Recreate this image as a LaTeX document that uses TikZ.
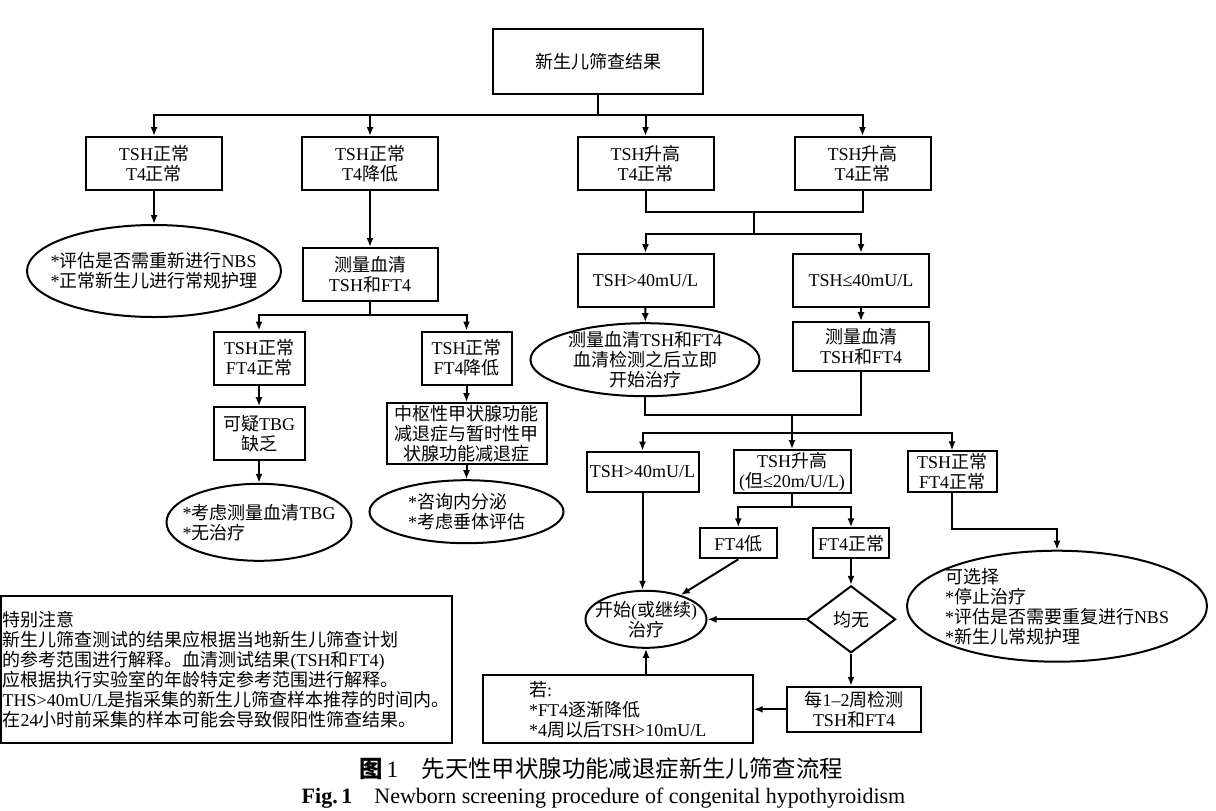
\documentclass[tikz,border=0pt]{standalone}
\usepackage{fontspec}
\setmainfont{Liberation Serif}
\newfontfamily\cjkfont{Noto Sans CJK SC}
\usetikzlibrary{shapes.geometric,arrows.meta}

\newXeTeXintercharclass\hanclass
\count255="4E00
\loop\ifnum\count255<"A000 \XeTeXcharclass\count255=\hanclass \advance\count255 by 1 \repeat
\count255="3000
\loop\ifnum\count255<"3040 \XeTeXcharclass\count255=\hanclass \advance\count255 by 1 \repeat
\count255="FF00
\loop\ifnum\count255<"FFF0 \XeTeXcharclass\count255=\hanclass \advance\count255 by 1 \repeat
\XeTeXinterchartoks 0 \hanclass={\cjkfont}
\XeTeXinterchartoks 4095 \hanclass={\cjkfont}
\XeTeXinterchartoks \hanclass 0={\rmfamily}
\XeTeXinterchartoks \hanclass 4095={\rmfamily}
\XeTeXinterchartokenstate=1

\begin{document}
\begin{tikzpicture}[x=0.5pt,y=-0.5pt,line width=1pt,>={Latex[length=4.5pt,width=3.5pt]},
  every node/.style={font=\fontsize{9}{10}\selectfont},
  box/.style={draw,align=center,inner sep=1pt},
  oval/.style={draw,ellipse,align=left,inner sep=-20pt},
  row/.style={minimum width=68pt,minimum height=26.5pt}]
\useasboundingbox (0,0) rectangle (1216,810);

\node[box,minimum width=105pt,minimum height=32.5pt] (res) at (598,61.5) {新生儿筛查结果};
\node[box,row] (tnorm) at (154,163.5) {TSH正常\\T4正常};
\node[box,row] (tlow) at (370,163.5) {TSH正常\\T4降低};
\node[box,row] (thigh) at (645.5,163.5) {TSH升高\\T4正常};
\node[box,row] (thighb) at (862.5,163.5) {TSH升高\\T4正常};

\node[oval,minimum width=127pt,minimum height=46pt] (renbs) at (154,271) {*评估是否需重新进行NBS\\*正常新生儿进行常规护理};
\node[box,minimum width=67.5pt,minimum height=26.5pt] (serum) at (370,274.5) {测量血清\\TSH和FT4};
\node[box,minimum width=45.5pt,minimum height=26.5pt] (ftnorm) at (259,358) {TSH正常\\FT4正常};
\node[box,minimum width=45pt,minimum height=26.5pt] (ftlow) at (466.5,358) {TSH正常\\FT4降低};
\node[box,minimum width=45.5pt,minimum height=26.5pt] (tbg) at (259,433.7) {可疑TBG\\缺乏};
\node[oval,minimum width=92.5pt,minimum height=38.5pt] (tbgtest) at (259,522.3) {*考虑测量血清TBG\\*无治疗};
\node[box,minimum width=80pt,minimum height=30.5pt] (central) at (466.5,433.5) {中枢性甲状腺功能\\减退症与暂时性甲\\状腺功能减退症};
\node[oval,minimum width=97pt,minimum height=31.5pt] (endo) at (466.5,511.7) {*咨询内分泌\\*考虑垂体评估};

\node[box,row] (over) at (645.5,280.5) {TSH>40mU/L};
\node[box,row] (under) at (861,280.5) {TSH≤40mU/L};
\node[oval,align=center,minimum width=114.5pt,minimum height=36.5pt] (treatnow) at (645,359.7) {测量血清TSH和FT4\\血清检测之后立即\\开始治疗};
\node[box,minimum width=68pt,minimum height=24.5pt] (serumb) at (861,346.7) {测量血清\\TSH和FT4};

\node[box,minimum width=56pt,minimum height=20pt] (overb) at (642.5,471.7) {TSH>40mU/L};
\node[box,minimum width=58.5pt,minimum height=20pt] (mild) at (792,471.7) {TSH升高\\(但≤20m/U/L)};
\node[box,minimum width=44.5pt,minimum height=20pt] (bothnorm) at (952,471.7) {TSH正常\\FT4正常};
\node[box,minimum width=38.5pt,minimum height=15pt] (ftlowb) at (738.3,543.3) {FT4低};
\node[box,minimum width=38pt,minimum height=15pt] (ftnormb) at (851,543.3) {FT4正常};
\node[oval,minimum width=150pt,minimum height=55.5pt] (options) at (1057,606.2) {可选择\\*停止治疗\\*评估是否需要重复进行NBS\\*新生儿常规护理};
\node[draw,diamond,inner sep=0pt,minimum width=44.5pt,minimum height=33.5pt] (none) at (851,619.3) {均无};
\node[oval,align=center,minimum width=60.5pt,minimum height=28.5pt] (treat) at (646,619.3) {开始(或继续)\\治疗};
\node[box,minimum width=67pt,minimum height=22.5pt] (recheck) at (854,709.3) {每1–2周检测\\TSH和FT4};
\node[box,align=left,minimum width=135pt,minimum height=34pt] (cond) at (617.7,709.3) {若:\\*FT4逐渐降低\\*4周以后TSH>10mU/L};

\node[box,align=left,minimum width=225.3pt,minimum height=73.7pt] (note) at (226.3,669.7) {特别注意\\新生儿筛查测试的结果应根据当地新生儿筛查计划\\的参考范围进行解释。血清测试结果(TSH和FT4)\\应根据执行实验室的年龄特定参考范围进行解释。\\THS>40mU/L是指采集的新生儿筛查样本推荐的时间内。\\在24小时前采集的样本可能会导致假阳性筛查结果。};

\node[font=\fontsize{11.7}{13}\selectfont] (capcn) at (601,769) {{\bfseries 图}\,1\quad 先天性甲状腺功能减退症新生儿筛查流程};
\node[font=\fontsize{11}{13}\selectfont,anchor=base] (capen) at (603.5,803) {\textbf{Fig.\,1}\quad Newborn screening procedure of congenital hypothyroidism};

\coordinate (bus1) at (598,115);
\draw (res) -- (bus1);
\draw[->] (bus1) -| (tnorm);
\draw[->] (bus1) -| (tlow);
\draw[->] (bus1) -| (thigh);
\draw[->] (bus1) -| (thighb);
\draw[->] (tnorm) -- (renbs);
\draw[->] (tlow) -- (serum);

\coordinate (bus4) at (370,315);
\draw (serum) -- (bus4);
\draw[->] (bus4) -| (ftnorm);
\draw[->] (bus4) -| (ftlow);
\draw[->] (ftnorm) -- (tbg);
\draw[->] (tbg) -- (tbgtest);
\draw[->] (ftlow) -- (central);
\draw[->] (central) -- (endo);

\coordinate (mrg1) at (754,212);
\coordinate (bus2) at (754,234);
\draw (thigh) |- (mrg1);
\draw (thighb) |- (mrg1);
\draw (mrg1) -- (bus2);
\draw[->] (bus2) -| (over);
\draw[->] (bus2) -| (under);
\draw[->] (over) -- (treatnow);
\draw[->] (under) -- (serumb);

\coordinate (mrg2) at (792,415);
\coordinate (bus3) at (792,433);
\draw (treatnow) |- (mrg2);
\draw (serumb) |- (mrg2);
\draw (mrg2) -- (bus3);
\draw[->] (bus3) -| (overb);
\draw[->] (bus3) -- (mild);
\draw[->] (bus3) -| (bothnorm);

\coordinate (bus5) at (792,506.7);
\draw (mild) -- (bus5);
\draw[->] (bus5) -| (ftlowb);
\draw[->] (bus5) -| (ftnormb);

\coordinate (bend) at (952,529.3);
\draw[->] (bothnorm) -- (bend) -| (options);
\draw[->] (ftnormb) -- (none);
\draw[->] (none) -- (treat);
\draw[->] (overb) -- (overb |- treat.north);
\draw[->] (ftlowb.south) -- (treat.35);
\draw[->] (none) -- (none |- recheck.north);
\draw[->] (recheck) -- (cond);
\draw[->] (treat |- cond.north) -- (treat);
\end{tikzpicture}
\end{document}
